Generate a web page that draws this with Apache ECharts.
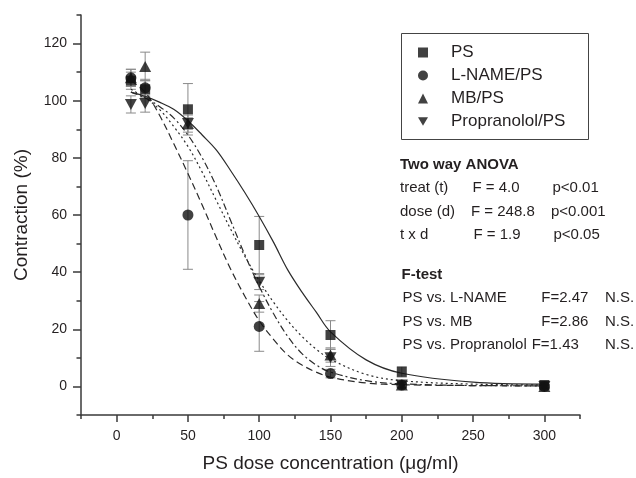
<!DOCTYPE html>
<html>
<head>
<meta charset="utf-8">
<script src="https://cdn.jsdelivr.net/npm/echarts@6/dist/echarts.min.js"></script>
<style>html,body{margin:0;padding:0;background:#fff}#c{width:636px;height:478px}</style>
</head>
<body>
<div id="c"></div>
<script>
// ---- data ----
const doses = [10, 20, 50, 100, 150, 200, 300];
const seriesNames = ['PS', 'L-NAME/PS', 'MB/PS', 'Propranolol/PS'];
const psMean = [107, 104, 97, 49.5, 18, 5.1, 0.5];
const psErr = [3, 3, 9, 10, 5, 1.8, 1];
const lnameMean = [108, 104.5, 60, 21, 4.5, 0.5, 0];
const lnameErr = [3, 3, 19, 8.7, 1.5, 1, 0.5];
const mbMean = [108, 112, 92, 29, 11, 0.5, 0];
const mbErr = [3, 5, 3, 3, 2.5, 1, 0.5];
const propMean = [98.7, 99, 92, 36.5, 10, 0.5, 0];
const propErr = [3, 3, 2, 2.6, 3, 1, 0.5];

// fitted curves, values
const curveX = [10, 20, 30, 40, 50, 60, 70, 80, 90, 100, 110, 120, 130, 140, 150, 175, 200, 250, 300];
const psCurve = [103, 101.5, 99.5, 97, 93, 88, 82.7, 75.5, 67.8, 59.5, 50.5, 40.8, 33, 26, 19.1, 9.3, 4.6, 1.5, 0.8];
const lnameCurve = [107, 103, 95, 85, 74.5, 63.5, 52, 41, 31.5, 23, 16.5, 11, 7.5, 5, 3.2, 1.2, 0.6, 0.3, 0.2];
const mbCurve = [103, 101, 98, 94, 88, 80, 70, 58, 46, 35, 25.5, 17.5, 11.5, 7.5, 5, 2, 0.9, 0.3, 0.2];
const propCurve = [104, 101, 97, 91, 84, 75, 65, 55, 45.5, 37, 29.5, 23, 17.5, 13, 9.5, 4.2, 2, 0.8, 0.5];

const xTickLabels = [0, 50, 100, 150, 200, 250, 300];
const xMinorTicks = [-25, 25, 75, 125, 175, 225, 275, 325];
const yTickLabels = [0, 20, 40, 60, 80, 100, 120];
const yMinorTicks = [-10, 10, 30, 50, 70, 90, 110, 130];

const anovaTitle = 'Two way ANOVA';
const anovaRows = [
  ['treat (t)', 'F = 4.0', 'p<0.01'],
  ['dose (d)', 'F = 248.8', 'p<0.001'],
  ['t x d', 'F = 1.9', 'p<0.05']
];
const ftestTitle = 'F-test';
const ftestRows = [
  ['PS vs. L-NAME', 'F=2.47', 'N.S.'],
  ['PS vs. MB', 'F=2.86', 'N.S.'],
  ['PS vs. Propranolol', 'F=1.43', 'N.S.']
];

// ---- chart ----
const FONT = '"Liberation Sans", Arial, Helvetica, sans-serif';
const INK = '#231f20';
const AXC = '#3a3a3a';
const downTri = 'path://M0,0L10,0L5,8.66Z';
const symbols = ['rect', 'circle', 'triangle', downTri];
const symSizes = [10, 11, [12, 11], [12, 11]];
const means = [psMean, lnameMean, mbMean, propMean];
const errs = [psErr, lnameErr, mbErr, propErr];
const curves = [psCurve, lnameCurve, mbCurve, propCurve];
const dashes = ['solid', [7, 4], [7, 3, 2, 3], [2, 3]];

const pairs = (xs, ys) => xs.map((x, i) => [x, ys[i]]);

const series = [];
// error bars
means.forEach((m, k) => {
  series.push({
    type: 'custom',
    name: 'err' + k,
    z: 1,
    data: doses.map((d, i) => [d, m[i], errs[k][i]]),
    renderItem: function (params, api) {
      const x = api.value(0), y = api.value(1), e = api.value(2);
      const top = api.coord([x, y + e]);
      const bot = api.coord([x, y - e]);
      const st = { stroke: '#8a8a8a', lineWidth: 1 };
      return {
        type: 'group',
        children: [
          { type: 'line', shape: { x1: top[0], y1: top[1], x2: bot[0], y2: bot[1] }, style: st },
          { type: 'line', shape: { x1: top[0] - 5, y1: top[1], x2: top[0] + 5, y2: top[1] }, style: st },
          { type: 'line', shape: { x1: bot[0] - 5, y1: bot[1], x2: bot[0] + 5, y2: bot[1] }, style: st }
        ]
      };
    }
  });
});
// fitted curves
curves.forEach((c, k) => {
  series.push({
    type: 'line',
    name: 'fit' + k,
    z: 2,
    data: pairs(curveX, c),
    smooth: 0.35,
    showSymbol: false,
    symbol: 'none',
    silent: true,
    lineStyle: { color: '#2b2b2b', width: 1.2, type: dashes[k] }
  });
});
// markers
means.forEach((m, k) => {
  series.push({
    type: 'scatter',
    name: seriesNames[k],
    z: 3,
    data: pairs(doses, m),
    symbol: symbols[k],
    symbolSize: symSizes[k],
    itemStyle: { color: '#111' }
  });
});

const graphic = [
  { type: 'rect', left: 399, top: 31, shape: { width: 187, height: 106 }, style: { fill: 'none', stroke: '#444', lineWidth: 1 } }
];
function addText(txt, x, y, bold) {
  graphic.push({
    type: 'text', x: x, y: y,
    style: { text: txt, font: (bold ? 'bold ' : '') + '15px ' + FONT, fill: INK, textVerticalAlign: 'middle', textAlign: 'left' }
  });
}
addText(anovaTitle, 400, 164.5, true);
const anovaX = [[400, 400, 400], [472.5, 471, 473.5], [552.5, 551, 553.5]];
anovaRows.forEach((r, i) => {
  const y = 188.3 + i * 23.4;
  r.forEach((t, j) => addText(t, anovaX[j][i], y, false));
});
addText(ftestTitle, 401.5, 274.5, true);
const ftestX = [[402.5, 402.5, 402.5], [541.3, 541.3, 531.7], [605, 605, 605]];
ftestRows.forEach((r, i) => {
  const y = 298.3 + i * 23.4;
  r.forEach((t, j) => addText(t, ftestX[j][i], y, false));
});

function tickAxis(min, max, pos, values, len) {
  return {
    type: 'value', min: min, max: max, position: pos, offset: 0,
    axisLine: { show: false, onZero: false },
    axisTick: { show: true, inside: false, length: len, customValues: values, lineStyle: { color: AXC, width: 1.5 } },
    axisLabel: { show: false },
    splitLine: { show: false }
  };
}

const option = {
  animation: false,
  backgroundColor: '#fff',
  textStyle: { fontFamily: FONT },
  grid: { left: 81, right: 56, top: 15, bottom: 60, containLabel: false },
  legend: {
    left: 413, top: 39, orient: 'vertical',
    itemWidth: 10, itemHeight: 10, itemGap: 6,
    textStyle: { fontSize: 17, color: INK, fontFamily: FONT, padding: [0, 0, 0, 18] },
    data: seriesNames.map((n, k) => ({ name: n, icon: symbols[k] })),
    selectedMode: false
  },
  xAxis: [{
    type: 'value', min: -25, max: 325, position: 'bottom',
    name: 'PS dose concentration (\u03bcg/ml)', nameLocation: 'middle', nameGap: 39,
    nameTextStyle: { fontSize: 19, color: INK, fontFamily: FONT },
    axisLine: { show: true, onZero: false, lineStyle: { color: AXC, width: 1.5 } },
    axisTick: { show: false },
    axisLabel: { customValues: xTickLabels, fontSize: 14, color: INK, margin: 14, fontFamily: FONT },
    splitLine: { show: false }
  },
  tickAxis(-25, 325, 'bottom', xTickLabels, 7),
  tickAxis(-25, 325, 'bottom', xMinorTicks, 4)],
  yAxis: [{
    type: 'value', min: -10, max: 130, position: 'left',
    name: 'Contraction (%)', nameLocation: 'middle', nameGap: 50,
    nameTextStyle: { fontSize: 19, color: INK, fontFamily: FONT },
    axisLine: { show: true, onZero: false, lineStyle: { color: AXC, width: 1.5 } },
    axisTick: { show: false },
    axisLabel: { customValues: yTickLabels, fontSize: 14, color: INK, margin: 14, fontFamily: FONT },
    splitLine: { show: false }
  },
  tickAxis(-10, 130, 'left', yTickLabels, 8),
  tickAxis(-10, 130, 'left', yMinorTicks, 4.5)],
  series: series,
  graphic: graphic
};

const chart = echarts.init(document.getElementById('c'), null, { renderer: 'canvas' });
chart.setOption(option);
</script>
</body>
</html>
